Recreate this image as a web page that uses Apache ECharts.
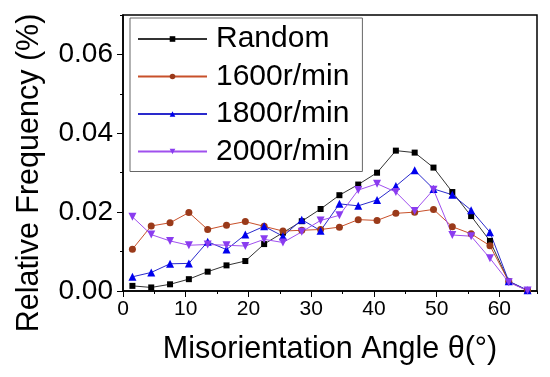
<!DOCTYPE html>
<html>
<head>
<meta charset="utf-8">
<script src="https://cdn.jsdelivr.net/npm/echarts@6/dist/echarts.min.js"></script>
<style>
  html,body{margin:0;padding:0;background:#fff;}
  #container{width:550px;height:377px;}
</style>
</head>
<body>
<div id="container"></div>
<script>
    // 取向差角 (°)
    var angles=[1.5,4.5,7.5,10.5,13.5,16.5,19.5,22.5,25.5,28.5,31.5,34.5,37.5,40.5,43.5,46.5,49.5,52.5,55.5,58.5,61.5,64.5];
    var randomVals=[0.0013,0.0009,0.0017,0.0030,0.0049,0.0065,0.0076,0.0119,0.0148,0.0177,0.0208,0.0243,0.0270,0.0300,0.0356,0.0351,0.0313,0.0251,0.0190,0.0127,0.0024,0.0001];
    var vals1600=[0.0106,0.0165,0.0173,0.0199,0.0156,0.0167,0.0176,0.0164,0.0152,0.0154,0.0156,0.0162,0.0181,0.0179,0.0197,0.0200,0.0207,0.0163,0.0145,0.0115,0.0024,0.0001];
    var vals1800=[0.0036,0.0047,0.0069,0.0070,0.0125,0.0105,0.0143,0.0164,0.0139,0.0181,0.0153,0.0221,0.0216,0.0231,0.0266,0.0306,0.0259,0.0244,0.0205,0.0149,0.0025,0.0002];
    var vals2000=[0.0188,0.0143,0.0127,0.0116,0.0118,0.0116,0.0114,0.0131,0.0123,0.0150,0.0179,0.0192,0.0256,0.0272,0.0251,0.0203,0.0257,0.0142,0.0139,0.0083,0.0022,0.0001];
    var seriesNames=['Random','1600r/min','1800r/min','2000r/min'];

    var font='Arial, "Liberation Sans", sans-serif';

    function pairs(ys){
        var out=[];
        for(var i=0;i<angles.length;i++){
            out.push([angles[i],ys[i]]);
        }
        return out;
    }

    function mkSeries(name,ys,lineColor,markColor,symbol,size,rotate){
        return {
            name:name,
            type:'line',
            xAxisIndex:0,
            yAxisIndex:0,
            symbol:symbol,
            symbolSize:size,
            symbolRotate:rotate||0,
            showAllSymbol:true,
            lineStyle:{color:lineColor,width:1},
            itemStyle:{color:markColor,borderWidth:0},
            data:pairs(ys)
        };
    }

    var myChart=echarts.init(document.getElementById('container'));
    var option={
        backgroundColor:'#ffffff',
        animation:false,
        textStyle:{fontFamily:font},
        grid:{
            left:123,right:13,top:15,bottom:86,
            show:true,borderColor:'#000',borderWidth:1.5,backgroundColor:'transparent'
        },
        legend:{
            left:130,top:18,
            orient:'vertical',
            data:seriesNames,
            itemWidth:69,
            itemHeight:7,
            itemGap:7.5,
            padding:[6,13,5,7],
            borderColor:'#666',
            borderWidth:1,
            textStyle:{fontFamily:font,fontSize:30,color:'#000',lineHeight:30,padding:[0,0,0,4]}
        },
        xAxis:[{
            type:'value',
            min:0,max:66,interval:10,
            name:'Misorientation Angle θ(°)',
            nameLocation:'middle',
            nameGap:43,
            nameTextStyle:{fontFamily:font,fontSize:30.5,color:'#000'},
            axisLine:{lineStyle:{color:'#000',width:1.5}},
            axisTick:{length:6,lineStyle:{color:'#000',width:1}},
            axisLabel:{fontFamily:font,fontSize:21,color:'#000',margin:8,showMaxLabel:false},
            splitLine:{show:false}
        },{
            type:'value',
            min:0,max:66,interval:5,
            position:'bottom',
            axisLine:{show:false},
            axisTick:{length:3,lineStyle:{color:'#000',width:1}},
            axisLabel:{show:false},
            splitLine:{show:false}
        }],
        yAxis:[{
            type:'value',
            min:0,max:0.07,interval:0.02,
            name:'Relative Frequency (%)',
            nameLocation:'middle',
            nameGap:78,
            // 标题整体下移约20px
            nameTextStyle:{fontFamily:font,fontSize:30.5,color:'#000',padding:[0,40,0,0]},
            axisLine:{show:true,lineStyle:{color:'#000',width:1.5}},
            axisTick:{show:true,length:6,lineStyle:{color:'#000',width:1}},
            axisLabel:{fontFamily:font,fontSize:28,color:'#000',margin:10,showMaxLabel:false,
                formatter:function(v){return v.toFixed(2);}},
            splitLine:{show:false}
        },{
            type:'value',
            min:0,max:0.07,interval:0.01,
            position:'left',
            axisLine:{show:false},
            axisTick:{show:true,length:3,lineStyle:{color:'#000',width:1}},
            axisLabel:{show:false},
            splitLine:{show:false}
        }],
        series:[
            mkSeries(seriesNames[0],randomVals,'#333333','#000000','rect',6),
            mkSeries(seriesNames[1],vals1600,'#c8502a','#9a3a1a','circle',7),
            mkSeries(seriesNames[2],vals1800,'#2a2acc','#0000ee','triangle',8),
            mkSeries(seriesNames[3],vals2000,'#a050ee','#8a3cf0','triangle',8,180)
        ]
    };
    myChart.setOption(option);
</script>
</body>
</html>
